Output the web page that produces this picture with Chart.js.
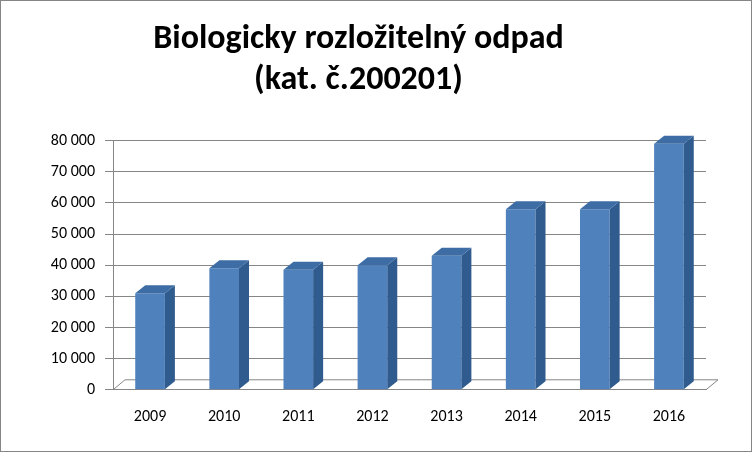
<!DOCTYPE html>
<html><head><meta charset="utf-8">
<script src="https://cdn.jsdelivr.net/npm/chart.js@4/dist/chart.umd.min.js"></script>
<style>
html,body{margin:0;padding:0;background:#fff;}
#wrap{position:absolute;left:0;top:0;width:750px;height:450px;border:1px solid #868686;}
</style></head><body>
<div id="wrap"><canvas id="c" width="750" height="450"></canvas></div>
<script>
const categories = ['2009','2010','2011','2012','2013','2014','2015','2016'];
const values = [31000, 39000, 38500, 40000, 43000, 58000, 58000, 79000];
const tickStep = 10000;

const bar3d = {
  id:'bar3d',
  beforeDatasetsDraw(chart){
    const ctx=chart.ctx, a=chart.chartArea, dx=12, dy=-10;
    ctx.save();
    ctx.strokeStyle='#868686'; ctx.lineWidth=1;
    ctx.beginPath();
    ctx.moveTo(a.left,a.bottom); ctx.lineTo(a.left+dx,a.bottom+dy);
    ctx.lineTo(a.right+dx,a.bottom+dy); ctx.lineTo(a.right,a.bottom);
    ctx.stroke();
    ctx.restore();
  },
  afterDatasetsDraw(chart){
    const ctx=chart.ctx, dx=10, dy=-8;
    chart.getDatasetMeta(0).data.forEach(b=>{
      const l=b.x-b.width/2, r=b.x+b.width/2, t=b.y, bot=b.base;
      ctx.save();
      ctx.fillStyle='#2F5B8E';
      ctx.beginPath();
      ctx.moveTo(r,t);ctx.lineTo(r+dx,t+dy);ctx.lineTo(r+dx,bot+dy);ctx.lineTo(r,bot);ctx.closePath();ctx.fill();
      ctx.fillStyle='#3E6DA6';
      ctx.beginPath();
      ctx.moveTo(l,t);ctx.lineTo(l+dx,t+dy);ctx.lineTo(r+dx,t+dy);ctx.lineTo(r,t);ctx.closePath();ctx.fill();
      ctx.restore();
    });
  }
};

new Chart(document.getElementById('c'),{
  type:'bar',
  data:{labels:categories,datasets:[{data:values,backgroundColor:'#4F81BD',barPercentage:0.4,categoryPercentage:1}]},
  options:{
    responsive:false,animation:false,
    layout:{padding:{left:10,right:45,top:10,bottom:14}},
    plugins:{legend:{display:false},tooltip:{enabled:false},
      title:{display:true,text:['Biologicky rozložitelný odpad','(kat. č.200201)'],
        font:{family:'Carlito, Liberation Sans, sans-serif',size:34,weight:'bold'},color:'#000',
        padding:{top:8,bottom:40},lineHeight:1.25}},
    scales:{
      x:{grid:{display:false},border:{color:'#868686'},
        ticks:{color:'#000',padding:10,font:{family:'Carlito, Liberation Sans, sans-serif',size:16}}},
      y:{min:0,max:80000,afterFit:s=>{s.width=102;},
        ticks:{stepSize:tickStep,color:'#000',padding:10,
          font:{family:'Carlito, Liberation Sans, sans-serif',size:16},
          callback:v=>v.toLocaleString('en-US').replace(/,/g,' ')},
        grid:{color:'#868686'},border:{color:'#868686'}}
    }
  },
  plugins:[bar3d]
});
</script></body></html>
